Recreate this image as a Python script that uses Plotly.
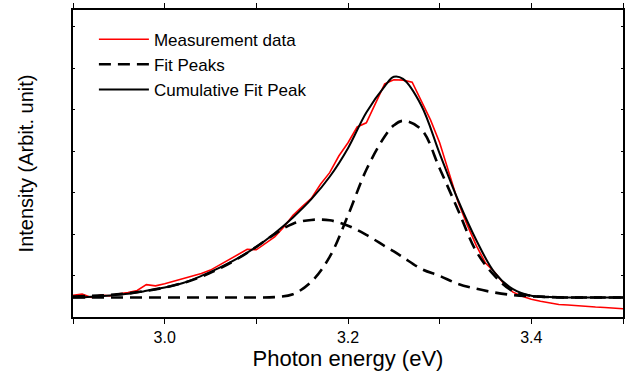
import plotly.graph_objects as go

meas_x = [2.90, 2.91, 2.92, 2.93, 2.94, 2.95, 2.96, 2.97, 2.98, 2.99,
          3.00, 3.01, 3.02, 3.03, 3.04, 3.05, 3.06, 3.07, 3.08, 3.09,
          3.10, 3.11, 3.12, 3.13, 3.14, 3.15, 3.16, 3.17, 3.18, 3.19,
          3.20, 3.21, 3.22, 3.23, 3.24, 3.25, 3.26, 3.27, 3.28, 3.29,
          3.30, 3.31, 3.32, 3.33, 3.34, 3.35, 3.36, 3.37, 3.38, 3.39,
          3.40, 3.41, 3.42, 3.43, 3.44, 3.45, 3.46, 3.47, 3.48, 3.49, 3.50]
meas_y = [0.52, 0.55, 0.47, 0.53, 0.51, 0.56, 0.59, 0.64, 0.78, 0.75,
          0.80, 0.86, 0.92, 0.98, 1.05, 1.13, 1.26, 1.38, 1.50, 1.63,
          1.62, 1.78, 1.93, 2.17, 2.45, 2.66, 2.86, 3.20, 3.48, 3.88,
          4.20, 4.58, 4.68, 5.15, 5.62, 5.72, 5.71, 5.66, 5.22, 4.75,
          4.20, 3.50, 2.78, 2.22, 1.72, 1.30, 1.08, 0.80, 0.60, 0.50,
          0.43, 0.38, 0.34, 0.30, 0.29, 0.27, 0.26, 0.24, 0.23, 0.22, 0.20]

# Fit curves
fit_x = [2.90, 2.92, 2.94, 2.96, 2.98, 3.00, 3.02, 3.04, 3.06, 3.08,
         3.10, 3.12, 3.14, 3.16, 3.18, 3.20, 3.22, 3.24, 3.25, 3.26,
         3.28, 3.30, 3.32, 3.34, 3.36, 3.38, 3.40, 3.42, 3.44, 3.46,
         3.48, 3.50]
peak1_y = [0.49, 0.51, 0.53, 0.57, 0.63, 0.71, 0.82, 0.97, 1.17, 1.41,
           1.69, 2.00, 2.25, 2.34, 2.33, 2.20, 1.98, 1.71, 1.58, 1.44,
           1.16, 0.99, 0.80, 0.68, 0.59, 0.53, 0.50, 0.48, 0.47, 0.47,
           0.47, 0.47]
peak2_y = [0.47, 0.47, 0.47, 0.47, 0.47, 0.47, 0.47, 0.47, 0.47, 0.47,
           0.47, 0.48, 0.55, 0.85, 1.45, 2.45, 3.55, 4.35, 4.62, 4.73,
           4.52, 3.58, 2.58, 1.58, 0.99, 0.62, 0.51, 0.48, 0.47, 0.47,
           0.47, 0.47]
cum_y = [0.47, 0.49, 0.52, 0.56, 0.63, 0.71, 0.82, 0.99, 1.19, 1.42,
         1.69, 2.02, 2.40, 2.84, 3.38, 4.07, 4.93, 5.56, 5.79, 5.74,
         5.10, 3.94, 2.82, 1.85, 1.07, 0.67, 0.51, 0.48, 0.47, 0.47,
         0.47, 0.47]

x_tickvals = [2.9, 3.0, 3.1, 3.2, 3.3, 3.4, 3.5]
x_ticktext = ["", "3.0", "", "3.2", "", "3.4", ""]
y_tickvals = [1, 2, 3, 4, 5, 6, 7]

fig = go.Figure()
fig.add_trace(go.Scatter(x=meas_x, y=meas_y, mode="lines", name="Measurement data",
                         line=dict(color="#ff0000", width=1.6)))
fig.add_trace(go.Scatter(x=fit_x, y=peak1_y, mode="lines", name="Fit Peaks",
                         line=dict(color="black", width=2.6, dash="12px,7px", shape="spline")))
fig.add_trace(go.Scatter(x=fit_x, y=peak2_y, mode="lines", name="Fit Peaks",
                         line=dict(color="black", width=2.6, dash="12px,7px", shape="spline"),
                         showlegend=False))
fig.add_trace(go.Scatter(x=fit_x, y=cum_y, mode="lines", name="Cumulative Fit Peak",
                         line=dict(color="black", width=2, shape="spline")))

fig.update_layout(
    width=628, height=375,
    margin=dict(l=73, r=4, t=3, b=58),
    paper_bgcolor="white", plot_bgcolor="white",
    font=dict(family="Liberation Sans, Arial, sans-serif", color="black"),
    showlegend=True,
    legend=dict(x=0.038, y=0.962, xanchor="left", yanchor="top",
                bgcolor="rgba(0,0,0,0)", font=dict(size=17),
                tracegroupgap=0, itemwidth=50),
    xaxis=dict(range=[2.9, 3.5], tickvals=x_tickvals, ticktext=x_ticktext,
               showline=True, linecolor="black", linewidth=1.5, mirror="ticks",
               ticks="outside", ticklen=5, tickcolor="black", tickwidth=1,
               showgrid=False, zeroline=False,
               tickfont=dict(size=16),
               title=dict(text="Photon energy (eV)", font=dict(size=22), standoff=5)),
    yaxis=dict(range=[0, 7.4], tickvals=y_tickvals, showticklabels=False,
               showline=True, linecolor="black", linewidth=1.5, mirror="ticks",
               ticks="inside", ticklen=2, tickcolor="black", tickwidth=1,
               showgrid=False, zeroline=False,
               title=dict(text="Intensity (Arbit. unit)", font=dict(size=20), standoff=32)),
)

fig.write_html("out.html")
